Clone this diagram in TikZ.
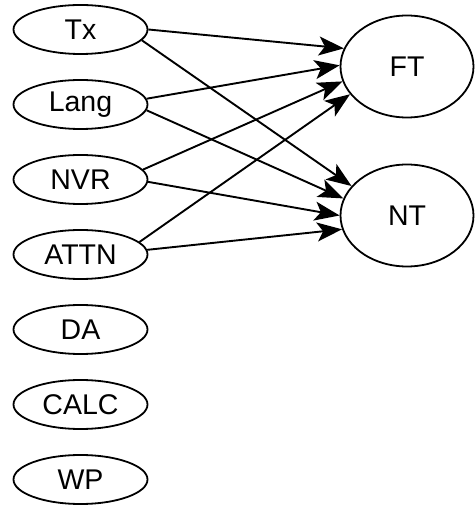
\documentclass[tikz,border=0pt]{standalone}
\usepackage{fontspec}
\setmainfont{Liberation Sans}
\usetikzlibrary{positioning, arrows.meta, shapes.geometric}

\begin{document}
\begin{tikzpicture}[
  x=1pt, y=1pt,
  var/.style={ellipse, draw, line width=1.8pt, inner sep=0pt,
              minimum width=134pt, minimum height=49pt,
              font=\fontsize{28.5}{34}\selectfont},
  outc/.style={var, minimum width=133pt, minimum height=102pt},
  arr/.style={-{Stealth[length=25pt, width=19pt, inset=6pt]}, line width=1.9pt},
  node distance=24.2pt,
]
  \useasboundingbox (0,0) rectangle (475,506);

  \node[var] at (80.5,476.5) (Tx)   {Tx};
  \node[var, below=of Tx]    (Lang) {Lang};
  \node[var, below=of Lang]  (NVR)  {NVR};
  \node[var, below=of NVR]   (ATTN) {ATTN};
  \node[var, below=of ATTN]  (DA)   {DA};
  \node[var, below=of DA]    (CALC) {CALC};
  \node[var, below=of CALC]  (WP)   {WP};

  \node[outc] at (407,439.5) (FT) {FT};
  \node[outc] at (407,290.5) (NT) {NT};

  \draw[arr] (Tx.0)    -- (FT.164);
  \draw[arr] (Tx.-10)  -- (NT.152);
  \draw[arr] (Lang.5)  -- (FT.179);
  \draw[arr] (Lang.-5) -- (NT.165);
  \draw[arr] (NVR.9)   -- (FT.193);
  \draw[arr] (NVR.-2)  -- (NT.180);
  \draw[arr] (ATTN.12) -- (FT.206);
  \draw[arr] (ATTN.4)  -- (NT.192);
\end{tikzpicture}
\end{document}
